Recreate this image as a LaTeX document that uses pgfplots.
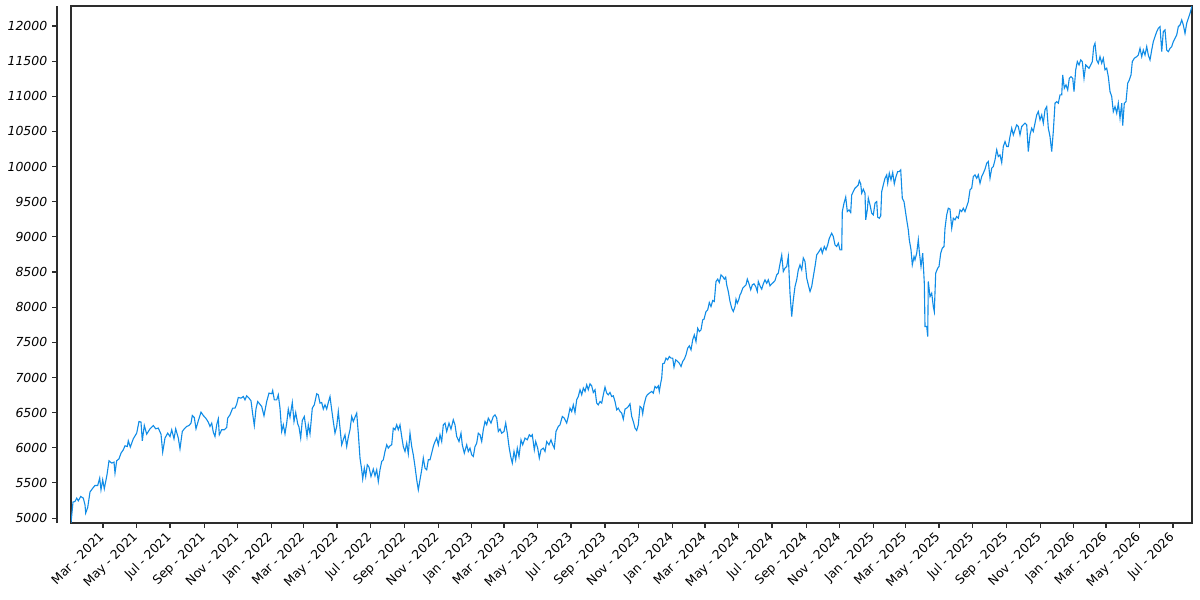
\documentclass[border=0pt]{standalone}
\usepackage{fontspec}
\setmainfont{DejaVu Sans}
\newfontfamily\oblfont{DejaVu Sans Oblique}
\usepackage{pgfplots}
\usepackage{pgfplotstable}
\pgfplotsset{compat=1.18}
\definecolor{serie}{RGB}{16,140,230}
\definecolor{spine}{RGB}{45,45,45}

\pgfplotstableread{
px v
71 4930
73 5228
75 5236
76.7 5284
78.3 5246
80.7 5307
83.3 5284
85 5189
85.7 5071
87.7 5151
90 5370
92.3 5417
95 5464
97.7 5464
99.7 5569
101 5402
102.7 5545
104.3 5417
107 5616
109 5815
111.7 5782
114 5796
115 5640
116.7 5815
119 5843
121 5924
123.3 5971
125 6028
127.3 6018
128.3 6099
130.3 6010
133.3 6128
136.7 6208
139 6374
141 6365
142.3 6099
144.3 6317
146.7 6194
150 6270
153.3 6317
155.7 6270
158.3 6280
161 6194
162.7 5938
165 6138
167.7 6208
170 6160
171.7 6256
174 6128
175.7 6270
178.3 6138
180 5985
182.3 6232
184.3 6270
186.7 6303
189 6317
191 6351
192.3 6459
194.3 6430
196 6270
198.3 6384
201 6507
203.3 6459
205.7 6422
208.3 6365
210 6303
211.7 6351
213.3 6223
215 6160
216.7 6327
218.3 6412
219.3 6185
221.7 6256
224.3 6256
226.7 6288
227.7 6422
230 6469
232.7 6564
235 6564
236.7 6621
238.3 6715
241 6706
243.3 6729
245 6682
246.7 6739
249 6706
251 6668
252.7 6479
254.3 6317
256 6554
257.7 6658
261.7 6587
264 6455
266.7 6658
269 6778
271.7 6768
272.7 6815
274.3 6682
276.7 6682
278.3 6753
280 6564
281.7 6232
283.3 6327
285 6199
286.7 6351
288.3 6550
290 6436
292.3 6644
294 6374
295.7 6502
297.7 6341
299 6294
300.7 6138
302.3 6388
304.3 6445
305.7 6303
307 6160
308.3 6327
310 6199
312.3 6564
314.3 6611
316.7 6768
318.3 6753
320 6635
321.7 6644
323.3 6550
325 6611
326.7 6550
328.3 6644
330 6729
331.7 6540
333.3 6374
335 6208
336.7 6303
338.3 6516
340 6280
341.7 6042
343.3 6114
345 6185
346.7 6018
348.3 6152
350 6256
351.7 6445
353.3 6374
355 6436
356.7 6493
358.3 6208
360 5853
361.7 5687
362.7 5555
364.3 5711
365.7 5592
367.3 5758
369 5725
371 5592
373.3 5697
375 5602
376.7 5687
378.3 5520
380 5687
381.7 5805
383.3 5829
385 5947
386.7 6042
388.3 5995
390 6028
391.7 6042
393.3 6280
395 6256
396.7 6327
398.3 6256
400 6327
401.7 6160
403.3 6018
405 5947
406.7 6066
408.3 5914
410 6208
411.7 6018
413.3 5900
415 5734
416.7 5545
418.3 5402
420 5545
421.7 5687
423.3 5853
425 5711
426.7 5687
428.3 5829
430 5829
431.7 5924
433.3 6018
435 6089
436.7 6138
438.3 6042
440 6185
441.7 6089
443.3 6327
445 6351
446.7 6232
449 6351
451 6266
453.3 6398
455 6327
456.7 6160
459 6089
461 6208
462.3 6042
464.3 5924
466.7 6042
468.3 5947
470 5995
471.7 5900
473.3 5876
475 6018
476.7 6066
478.3 6208
480 6185
481.7 6089
483.3 6256
485 6374
486.7 6327
488.3 6422
491 6351
493.3 6445
495 6469
496.7 6422
498.3 6232
500 6266
501.7 6208
504 6232
505.7 6351
507.3 6208
509 6018
510.7 5876
512.3 5782
514 5947
515.7 5829
517.3 5995
519 5876
521 6113
522.7 6042
525 6138
527.3 6113
529.3 6185
531 6160
532.3 6185
534.3 5971
535.7 6089
537.7 5995
539.3 5853
541 5971
543.3 5995
545 5947
546.7 6089
549 6042
551 6113
552.7 6042
554.3 5995
556 6232
558.3 6303
560 6327
562.3 6445
564.3 6422
566.7 6351
568.3 6445
570 6564
571.7 6516
573.3 6611
575 6502
576.7 6682
578.3 6729
580 6825
581.7 6753
583.3 6849
585 6801
586.7 6896
588.3 6825
590 6910
591.7 6881
593.3 6787
595 6825
596.7 6635
598.3 6611
600 6658
601.7 6635
603.3 6753
605 6863
606.7 6777
608.3 6753
610 6787
611.7 6729
613.3 6739
615 6658
616.7 6540
618.3 6564
620 6516
621.7 6493
623.3 6407
625 6550
626.7 6564
628.3 6587
630 6625
631.7 6445
633.3 6374
635 6280
636.7 6246
638.3 6327
640 6587
641.7 6564
642.7 6483
644 6611
646 6720
647.3 6753
649.3 6777
651.7 6801
653.3 6777
655 6872
656.7 6849
658.3 6881
659.3 6801
660.7 6920
661.7 6991
662.7 7194
664.3 7204
666 7275
667.7 7251
669.3 7298
671 7275
672.7 7275
674 7147
675.7 7251
677.7 7227
679.3 7204
681 7156
682.7 7227
684.3 7261
686 7322
687.7 7417
689.3 7450
691 7393
692.7 7535
694.3 7606
696 7511
697.7 7700
699.3 7653
701 7677
702.7 7819
704 7829
706 7938
707.7 7962
709.3 8066
711 8009
712.7 8095
714.3 8081
716 8365
717.7 8399
719.3 8351
721 8460
722.7 8436
724.3 8399
725.7 8427
726.7 8318
728.3 8223
730 8081
731.7 7986
733.3 7938
735 8009
736 8114
737.3 8057
738.7 8104
740 8175
741 8199
742.7 8270
744.3 8294
746 8318
747.3 8399
749 8332
750.7 8247
752.3 8318
754 8332
755.7 8294
757.3 8223
758.3 8365
760 8304
761.7 8256
763.3 8332
765 8389
766.7 8341
768.3 8389
770 8304
771.7 8332
773.3 8351
775 8379
776.7 8460
778.3 8484
780 8616
781.7 8740
783.3 8507
785 8555
786.7 8578
788.3 8720
790 8199
791.7 7867
793.3 8104
795 8294
796.7 8389
798.3 8531
800 8602
801.7 8531
803.3 8700
805 8649
806.7 8413
808.3 8318
810 8223
811.7 8294
813.3 8436
815 8578
816.7 8744
819 8791
821 8839
822.3 8768
824.3 8863
826 8815
827.7 8886
829.3 8981
831.7 9052
833.3 9004
835 8886
836.7 8863
838.3 8910
840 8815
841.7 8815
842.3 9360
844 9479
845.7 9565
847.3 9360
849 9384
850.7 9346
851.7 9597
853.3 9644
855 9692
856.7 9715
858.3 9739
859.3 9800
860.7 9754
861.7 9621
863.3 9678
865 9621
865.7 9242
867.3 9384
868.3 9550
870 9455
871.7 9337
873.3 9313
875 9479
876.7 9502
877.7 9280
879.3 9265
880.7 9299
881.7 9644
883.3 9739
885 9834
886.7 9882
887.7 9763
889.3 9906
891 9811
892.7 9915
894.3 9754
896 9858
897.7 9929
899.3 9929
900.7 9953
902.3 9550
904 9502
905.7 9337
906.7 9242
908.3 9100
909.3 8958
911 8815
912.3 8602
914 8720
915 8673
916.7 8768
918.3 8958
919.3 8791
921 8578
922.7 8768
924.3 8341
925 7725
926.7 7725
927.7 7583
928.3 8365
930 8151
931.7 8199
933.3 8009
934.3 7938
935.7 8484
937.7 8555
939 8578
940.7 8768
942.3 8839
944 8863
945 9124
946.7 9313
948.3 9408
950 9394
951.7 9124
953.3 9265
955 9242
956.7 9289
958.3 9265
960 9384
961.7 9360
963.3 9408
965 9360
966.7 9431
968.3 9502
970 9668
971.7 9692
973.3 9858
975 9882
976.7 9834
978.3 9882
980 9763
981.7 9858
983.3 9906
985 9963
986.7 10048
988.3 10072
990 9834
991.7 9977
993.3 10001
995 10096
996.7 10238
998.3 10143
1000 10166
1001.7 10057
1003.3 10285
1005 10356
1006.7 10285
1008.3 10285
1010 10427
1011.7 10546
1013.3 10451
1015 10522
1016.7 10593
1018.3 10569
1020 10451
1021.7 10569
1023.3 10593
1025 10617
1026.7 10593
1028.3 10214
1030 10451
1031.7 10546
1033.3 10499
1035 10617
1036.7 10735
1038.3 10782
1040 10664
1041.7 10735
1043.3 10617
1045 10806
1046.7 10853
1048.3 10546
1050 10427
1051.7 10214
1053.3 10499
1055 10901
1056.7 10924
1058.3 10901
1060 11019
1061.7 11019
1062.7 11303
1064.3 11114
1066 11161
1067.7 11090
1069.3 11256
1071 11280
1072.7 11256
1074 11067
1075.7 11375
1077.3 11493
1079 11445
1080.7 11516
1082.3 11493
1084 11256
1085.7 11445
1087.3 11422
1089 11398
1090.7 11445
1092.3 11493
1093.7 11706
1095 11753
1096.7 11516
1098.3 11469
1100 11564
1101.7 11469
1103.3 11540
1105 11375
1106.7 11398
1108.3 11280
1110 11067
1111.7 10995
1113.3 10782
1115 10853
1116.7 10759
1118.3 10901
1120 10688
1121.7 10901
1122.7 10582
1124.3 10901
1126 10924
1127.7 11185
1129.3 11232
1131 11303
1132.3 11493
1134.3 11540
1136.7 11564
1138.3 11587
1140 11682
1141.7 11564
1143.3 11658
1145 11587
1146.7 11706
1148.3 11587
1150 11516
1151.7 11658
1153.3 11777
1155 11848
1156.7 11919
1158.3 11966
1160 11990
1161.7 11635
1163.3 11919
1165 11943
1166.7 11658
1168.3 11635
1170 11682
1171.7 11706
1173.3 11777
1175 11825
1176.7 11872
1178.3 11990
1180 12014
1181.7 12085
1183.3 12014
1185 11895
1186.7 12037
1188.3 12108
1190 12180
1192 12280
}\series

\begin{document}
\begin{tikzpicture}
\useasboundingbox (-51.12bp,-55.44bp) rectangle (812.88bp,376.56bp);
\begin{axis}[
  scale only axis, width=807.12bp, height=372.24bp,
  xmin=71, xmax=1192, ymin=4930, ymax=12284,
  axis line style={spine, line width=0.8bp},
  ytick=\empty,
  xtick={103,136.5,170,204.1,237.6,271.1,303.5,337,370.5,404.6,438.1,471.6,504,537.5,571,605,638.6,672.1,705,738.5,772,806.1,839.6,873.1,905.5,939,972.5,1006.6,1040.1,1073.6,1106,1139.5,1173},
  xticklabels={Mar - 2021,May - 2021,Jul - 2021,Sep - 2021,Nov - 2021,Jan - 2022,Mar - 2022,May - 2022,Jul - 2022,Sep - 2022,Nov - 2022,Jan - 2023,Mar - 2023,May - 2023,Jul - 2023,Sep - 2023,Nov - 2023,Jan - 2024,Mar - 2024,May - 2024,Jul - 2024,Sep - 2024,Nov - 2024,Jan - 2025,Mar - 2025,May - 2025,Jul - 2025,Sep - 2025,Nov - 2025,Jan - 2026,Mar - 2026,May - 2026,Jul - 2026},
  xtick pos=left, tick align=outside,
  major tick length=3.5bp,
  tick style={spine, line width=0.8bp},
  xticklabel style={xshift=-3.6bp, rotate=45, anchor=north east, font=\fontsize{9}{11}\selectfont, inner sep=1.5bp},
]
\addplot[serie, line width=0.8bp, mark=none] table[x=px, y=v] {\series};
\end{axis}
\begin{axis}[
  scale only axis, width=807.12bp, height=372.24bp, xshift=-10.08bp,
  xmin=71, xmax=1192, ymin=4930, ymax=12284,
  axis x line=none, axis y line*=left,
  axis line style={spine, line width=0.8bp},
  ytick={5000,5500,6000,6500,7000,7500,8000,8500,9000,9500,10000,10500,11000,11500,12000},
  scaled y ticks=false,
  tick align=outside, major tick length=3.5bp,
  tick style={spine, line width=0.8bp},
  yticklabel={\mbox{\oblfont\pgfmathprintnumber[assume math mode=true,1000 sep={}]{\tick}}},
  yticklabel style={font=\fontsize{9}{11}\selectfont},
]
\addplot[draw=none, mark=none] coordinates {(71,5000) (1192,12000)};
\end{axis}
\end{tikzpicture}
\end{document}
